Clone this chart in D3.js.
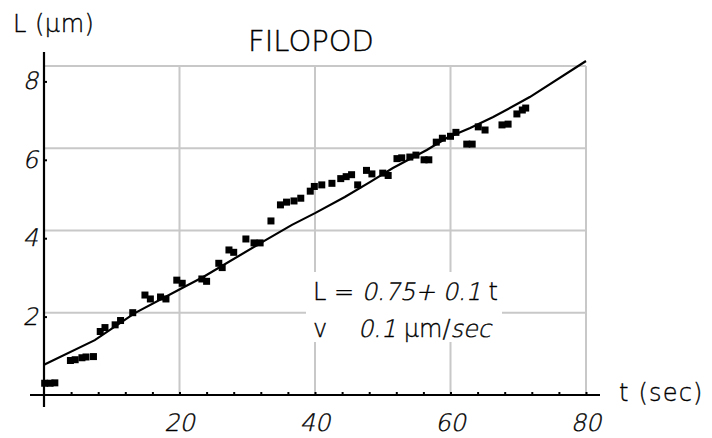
<!DOCTYPE html>
<html><head><meta charset="utf-8">
<script src="https://cdn.jsdelivr.net/npm/d3@7"></script>
<style>
html,body{margin:0;padding:0;background:#fff;}
svg text{font-family:"DejaVu Sans",sans-serif;font-weight:200;fill:#000;stroke:#000;stroke-width:0.35px;white-space:pre;}
</style></head>
<body><svg id="c" width="712" height="438"></svg>
<script>
// ---- data ----
const times = [0.1,0.9,1.6, 3.9,4.6,5.6,6.2,7.3, 8.3,9.0, 10.5,11.3, 13.1, 14.9,15.7, 17.2,18.0, 19.6,20.4, 23.3,24.0,
  25.8,26.3, 27.3,28.0, 29.8, 31.0,31.9, 33.5, 34.9,35.8,36.9,37.9,39.3,39.9,41.0,42.5,43.8,44.6,45.4,46.3,47.6,
  48.4,50.0,50.8,52.1,52.8,54.0,54.9,56.1,56.8,57.9,58.8,60.0,60.8,62.4,63.2,64.1,65.1,67.6,68.5,69.8,70.6,71.1];
const lengths = [0.30,0.30,0.31, 0.88,0.90,0.95,0.97,0.98, 1.62,1.72, 1.79,1.90, 2.10, 2.55,2.45, 2.50,2.45, 2.93,2.85, 2.96,2.90,
  3.36,3.25, 3.70,3.64, 3.98, 3.88,3.88, 4.44, 4.85,4.92,4.95,5.02,5.20,5.32,5.36,5.40,5.52,5.57,5.62,5.36,5.73,
  5.64,5.66,5.60,6.03,6.05,6.07,6.12,6.00,6.00,6.45,6.55,6.60,6.70,6.40,6.40,6.84,6.76,6.89,6.91,7.17,7.27,7.32];
const fitT = [0,7.5,13.4,20.4,23.5,32.2,36.6,40.0,44.4,48.1,51.5,56.5,59.5,62.9,66.3,71.7,80];
const fitL = [0.77,1.40,2.09,2.73,3.01,3.90,4.34,4.64,5.05,5.43,5.79,6.25,6.56,6.81,7.09,7.60,8.52];
const xTicks = [20,40,60,80];
const yTicks = [2,4,6,8];
const xMinor = [4,8,12,16,24,28,32,36,44,48,52,56,64,68,72,76];
const title = "FILOPOD";
const yLabel = "L (μm)";
const xLabel = "t (sec)";
const eqLine1 = [["L = ",false],["0.75+ 0.1 ",true],["t",false]];
const eqLine2a = [["v",false]];
const eqLine2b = [["0.1 ",true],["μm/",false],["sec",true]];

// ---- scales ----
const svg = d3.select("#c");
const x = d3.scaleLinear().domain([0,80]).range([44,586]);
const y = d3.scaleLinear().domain([0,8]).range([395,81.4]);
const yGrid = d3.scaleLinear().domain([0,8]).range([395,66]);
const SKEW = -13;

// grid
const g = svg.append("g");
g.selectAll(".vg").data(xTicks).join("line")
  .attr("x1",d=>x(d)).attr("x2",d=>x(d)).attr("y1",yGrid(8)).attr("y2",395)
  .attr("stroke","#c8c8c8").attr("stroke-width",2);
g.selectAll(".hg").data(yTicks).join("line")
  .attr("x1",44).attr("x2",x(80)).attr("y1",d=>yGrid(d)).attr("y2",d=>yGrid(d))
  .attr("stroke","#c8c8c8").attr("stroke-width",2);

// annotation background
svg.append("rect").attr("x",306).attr("y",272).attr("width",196).attr("height",70).attr("fill","#fff");

// axes
const xa = svg.append("g").attr("transform","translate(0,395)")
  .call(d3.axisTop(x).tickValues(xMinor.concat(xTicks)).tickSize(3).tickFormat(""));
xa.select(".domain").remove();
xa.selectAll("line").attr("stroke","#000").attr("stroke-width",2);
svg.append("line").attr("x1",30).attr("x2",600).attr("y1",395).attr("y2",395).attr("stroke","#000").attr("stroke-width",2.2);
svg.append("line").attr("x1",44).attr("x2",44).attr("y1",52).attr("y2",407).attr("stroke","#000").attr("stroke-width",2.2);
const ya = svg.append("g").attr("transform","translate(44,0)").call(d3.axisRight(y).tickValues(yTicks).tickSize(3).tickFormat(""));
ya.select(".domain").remove();
ya.selectAll("line").attr("stroke","#000").attr("stroke-width",2);

// tick labels (slanted)
svg.selectAll(".xl").data(xTicks).join("text")
  .attr("transform",d=>`translate(${x(d)},431) skewX(${SKEW})`).attr("text-anchor","middle")
  .attr("font-size",24).text(d=>d);
svg.selectAll(".yl").data(yTicks).join("text")
  .attr("transform",d=>`translate(38,${y(d)+8}) skewX(${SKEW})`).attr("text-anchor","end")
  .attr("font-size",24).text(d=>d);

// fit line
svg.append("path").datum(fitT.map((t,i)=>[t,fitL[i]]))
  .attr("d",d3.line().x(d=>x(d[0])).y(d=>y(d[1])))
  .attr("fill","none").attr("stroke","#000").attr("stroke-width",2.2);

// points
svg.selectAll(".pt").data(times.map((t,i)=>[t,lengths[i]])).join("rect")
  .attr("x",d=>x(d[0])-3.5).attr("y",d=>y(d[1])-3.5).attr("width",7).attr("height",7).attr("fill","#000");

// titles
svg.append("text").attr("x",311).attr("y",51).attr("text-anchor","middle").attr("font-size",29).text(title);
svg.append("text").attr("x",13).attr("y",32).attr("font-size",24).attr("letter-spacing",0.5).text(yLabel);
svg.append("text").attr("x",619).attr("y",401).attr("font-size",24).attr("letter-spacing",1.2).text(xLabel);

// rich text with slanted parts
function rich(x0, y0, size, parts){
  let cx = x0;
  parts.forEach(([s,it])=>{
    const t = svg.append("text").attr("font-size",size)
      .attr("transform",`translate(${cx},${y0})` + (it?` skewX(${SKEW})`:""))
      .text(s);
    cx += t.node().getComputedTextLength();
  });
}
rich(313,300,24,eqLine1);
rich(313,337,24,eqLine2a);
rich(358,337,24,eqLine2b);
</script></body></html>
